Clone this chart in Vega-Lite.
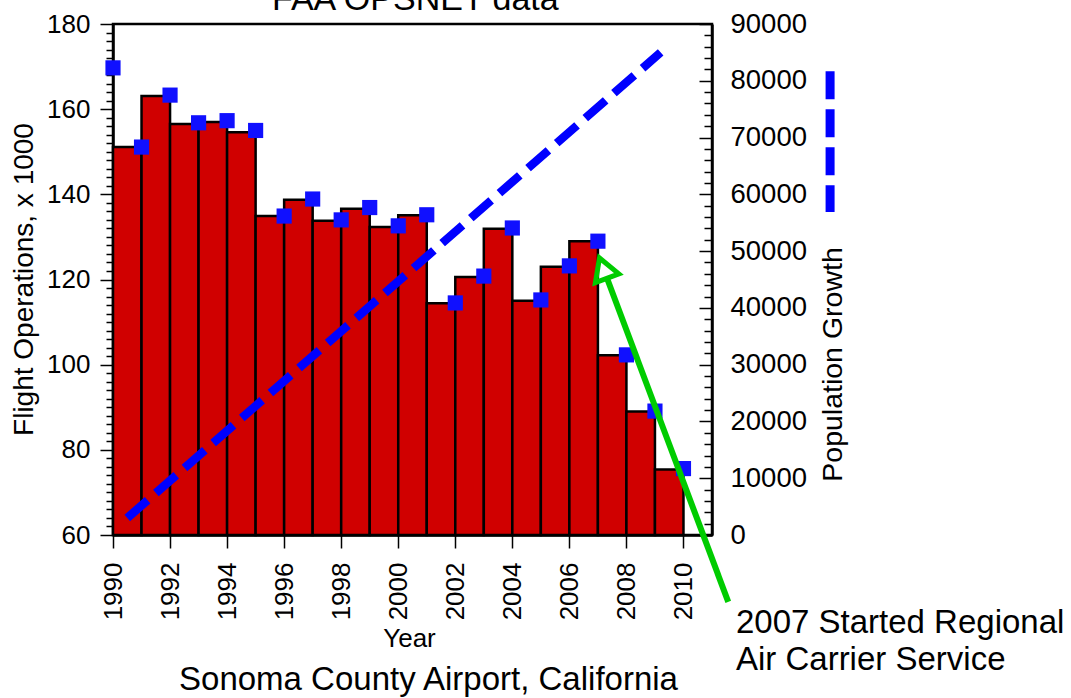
{
  "$schema": "https://vega.github.io/schema/vega-lite/v6.json",
  "width": 599,
  "height": 511,
  "autosize": {"type": "none"},
  "padding": {"left": 113, "top": 24, "right": 359, "bottom": 163},
  "background": "white",
  "datasets": {
    "bars": [
      {"year": 1990, "end": 1991, "ops": 151.1},
      {"year": 1991, "end": 1992, "ops": 163.1},
      {"year": 1992, "end": 1993, "ops": 156.5},
      {"year": 1993, "end": 1994, "ops": 157.0},
      {"year": 1994, "end": 1995, "ops": 154.6},
      {"year": 1995, "end": 1996, "ops": 134.9},
      {"year": 1996, "end": 1997, "ops": 138.7},
      {"year": 1997, "end": 1998, "ops": 133.8},
      {"year": 1998, "end": 1999, "ops": 136.6},
      {"year": 1999, "end": 2000, "ops": 132.3},
      {"year": 2000, "end": 2001, "ops": 135.1},
      {"year": 2001, "end": 2002, "ops": 114.4},
      {"year": 2002, "end": 2003, "ops": 120.6},
      {"year": 2003, "end": 2004, "ops": 131.9},
      {"year": 2004, "end": 2005, "ops": 115.0},
      {"year": 2005, "end": 2006, "ops": 123.0},
      {"year": 2006, "end": 2007, "ops": 129.0},
      {"year": 2007, "end": 2008, "ops": 102.2},
      {"year": 2008, "end": 2009, "ops": 89.0},
      {"year": 2009, "end": 2010, "ops": 75.4}
    ],
    "points": [
      {"year": 1990, "ops": 169.7},
      {"year": 1991, "ops": 151.1},
      {"year": 1992, "ops": 163.3},
      {"year": 1993, "ops": 156.8},
      {"year": 1994, "ops": 157.3},
      {"year": 1995, "ops": 155.0},
      {"year": 1996, "ops": 134.9},
      {"year": 1997, "ops": 138.9},
      {"year": 1998, "ops": 134.0},
      {"year": 1999, "ops": 136.9},
      {"year": 2000, "ops": 132.6},
      {"year": 2001, "ops": 135.2},
      {"year": 2002, "ops": 114.5},
      {"year": 2003, "ops": 120.8},
      {"year": 2004, "ops": 132.1},
      {"year": 2005, "ops": 115.2},
      {"year": 2006, "ops": 123.2},
      {"year": 2007, "ops": 129.0},
      {"year": 2008, "ops": 102.3},
      {"year": 2009, "ops": 89.1},
      {"year": 2010, "ops": 75.6}
    ],
    "population": [
      {"year": 1990.5, "pop": 3000},
      {"year": 2009.2, "pop": 85000}
    ],
    "legend": [
      {"year": 2015.14, "top": 81700, "bottom": 56900}
    ],
    "arrow": [
      {"year": 2011.57, "ops": 44.3, "year_tip": 2007.32, "ops_tip": 120.3}
    ],
    "arrowhead": [
      {"year": 2007.19, "ops": 122.68}
    ],
    "heading": [
      {"year": 2000.6, "ops": 183.3, "label": "FAA OPSNET data"}
    ],
    "note": [
      {"year": 2011.84, "ops": 36.98, "label": "2007 Started Regional"},
      {"year": 2011.84, "ops": 28.3, "label": "Air Carrier Service"}
    ],
    "caption": [
      {"year": 2001.06, "ops": 23.6, "label": "Sonoma County Airport, California"}
    ]
  },
  "encoding": {
    "x": {"field": "year", "type": "quantitative",
      "scale": {"domain": [1990, 2011], "nice": false, "zero": false},
      "axis": {"title": "Year", "values": [1990, 1992, 1994, 1996, 1998, 2000, 2002, 2004, 2006, 2008, 2010], "format": "d", "labelAngle": 270, "labelFontSize": 26, "tickSize": 13, "labelPadding": 14, "titleFontSize": 26, "titleX": 296, "titleY": 111, "titleBaseline": "alphabetic", "titleAlign": "center", "labelOverlap": false, "labelBound": false}}
  },
  "layer": [
    {
      "data": {"name": "bars"},
      "mark": {"type": "bar", "fill": "#d00000", "stroke": "black", "strokeWidth": 2.5},
      "encoding": {
        "x2": {"field": "end"},
        "y": {"field": "ops", "type": "quantitative",
          "scale": {"domain": [60, 180], "nice": false, "zero": false},
          "axis": {"orient": "left", "title": "Flight Operations, x 1000",
            "values": [60,62,64,66,68,70,72,74,76,78,80,82,84,86,88,90,92,94,96,98,100,102,104,106,108,110,112,114,116,118,120,122,124,126,128,130,132,134,136,138,140,142,144,146,148,150,152,154,156,158,160,162,164,166,168,170,172,174,176,178,180],
            "labelExpr": "datum.value % 20 === 0 ? datum.label : ''",
            "tickSize": {"condition": {"test": "datum.value % 20 === 0", "value": 13}, "value": 7},
            "labelPadding": 10, "labelFontSize": 26, "labelOverlap": false, "labelBound": false,
            "titleFontSize": 28, "titleAngle": 270, "titleX": -81, "titleY": 255, "titleBaseline": "alphabetic", "titleAlign": "center"}},
        "y2": {"datum": 60}
      }
    },
    {
      "data": {"name": "population"},
      "mark": {"type": "line", "color": "#0000ff", "strokeWidth": 8.5, "strokeDash": [27, 11], "strokeCap": "butt"},
      "encoding": {
        "y": {"field": "pop", "type": "quantitative",
          "scale": {"domain": [0, 90000], "nice": false, "zero": false},
          "axis": {"orient": "right", "title": "Population Growth",
            "values": [0,2000,4000,6000,8000,10000,12000,14000,16000,18000,20000,22000,24000,26000,28000,30000,32000,34000,36000,38000,40000,42000,44000,46000,48000,50000,52000,54000,56000,58000,60000,62000,64000,66000,68000,70000,72000,74000,76000,78000,80000,82000,84000,86000,88000,90000],
            "format": "d",
            "labelExpr": "datum.value % 10000 === 0 ? datum.label : ''",
            "tickSize": {"condition": {"test": "datum.value % 10000 === 0", "value": -13}, "value": -8},
            "labelPadding": 31, "labelFontSize": 27.5, "labelOverlap": false, "labelBound": false,
            "titleFontSize": 28.5, "titleAngle": 270, "titleX": 129, "titleY": 340, "titleBaseline": "alphabetic", "titleAlign": "center"}}
      }
    },
    {
      "data": {"name": "points"},
      "mark": {"type": "point", "shape": "square", "filled": true, "color": "#1010ff", "size": 230, "opacity": 1},
      "encoding": {
        "y": {"field": "ops", "type": "quantitative", "scale": {"domain": [60, 180], "nice": false, "zero": false}, "axis": null}
      }
    },
    {
      "data": {"name": "legend"},
      "mark": {"type": "rule", "color": "#0000ff", "strokeWidth": 9, "strokeDash": [28, 10], "strokeCap": "butt"},
      "encoding": {
        "y": {"field": "top", "type": "quantitative", "scale": {"domain": [0, 90000], "nice": false, "zero": false}, "axis": null},
        "y2": {"field": "bottom"}
      }
    },
    {
      "data": {"name": "arrow"},
      "mark": {"type": "rule", "color": "#00cc00", "strokeWidth": 6, "strokeCap": "butt"},
      "encoding": {
        "y": {"field": "ops", "type": "quantitative", "scale": {"domain": [60, 180], "nice": false, "zero": false}, "axis": null},
        "x2": {"field": "year_tip"},
        "y2": {"field": "ops_tip"}
      }
    },
    {
      "data": {"name": "arrowhead"},
      "mark": {"type": "point", "shape": "triangle-up", "filled": false, "stroke": "#00cc00", "strokeWidth": 5, "size": 625, "angle": 339.5, "opacity": 1, "strokeJoin": "miter"},
      "encoding": {
        "y": {"field": "ops", "type": "quantitative", "scale": {"domain": [60, 180], "nice": false, "zero": false}, "axis": null}
      }
    },
    {
      "data": {"name": "heading"},
      "mark": {"type": "text", "align": "center", "baseline": "alphabetic", "fontSize": 34, "font": "Liberation Sans", "color": "black"},
      "encoding": {
        "y": {"field": "ops", "type": "quantitative", "scale": {"domain": [60, 180], "nice": false, "zero": false}, "axis": null},
        "text": {"field": "label"}
      }
    },
    {
      "data": {"name": "note"},
      "mark": {"type": "text", "align": "left", "baseline": "alphabetic", "fontSize": 33, "font": "Liberation Sans", "color": "black"},
      "encoding": {
        "y": {"field": "ops", "type": "quantitative", "scale": {"domain": [60, 180], "nice": false, "zero": false}, "axis": null},
        "text": {"field": "label"}
      }
    },
    {
      "data": {"name": "caption"},
      "mark": {"type": "text", "align": "center", "baseline": "alphabetic", "fontSize": 33, "font": "Liberation Sans", "color": "black"},
      "encoding": {
        "y": {"field": "ops", "type": "quantitative", "scale": {"domain": [60, 180], "nice": false, "zero": false}, "axis": null},
        "text": {"field": "label"}
      }
    }
  ],
  "resolve": {"scale": {"y": "independent"}, "axis": {"y": "independent"}},
  "config": {
    "view": {"stroke": "black", "strokeWidth": 2.5},
    "axis": {"grid": false, "domainColor": "black", "domainWidth": 2.5, "tickColor": "black", "tickWidth": 1.5, "labelColor": "black", "titleColor": "black", "labelFont": "Liberation Sans", "titleFont": "Liberation Sans", "titleFontWeight": "normal"},
    "axisX": {"labelFontSize": 26, "titleFontSize": 26, "tickSize": 13, "labelPadding": 14},
    "text": {"font": "Liberation Sans"}
  }
}
